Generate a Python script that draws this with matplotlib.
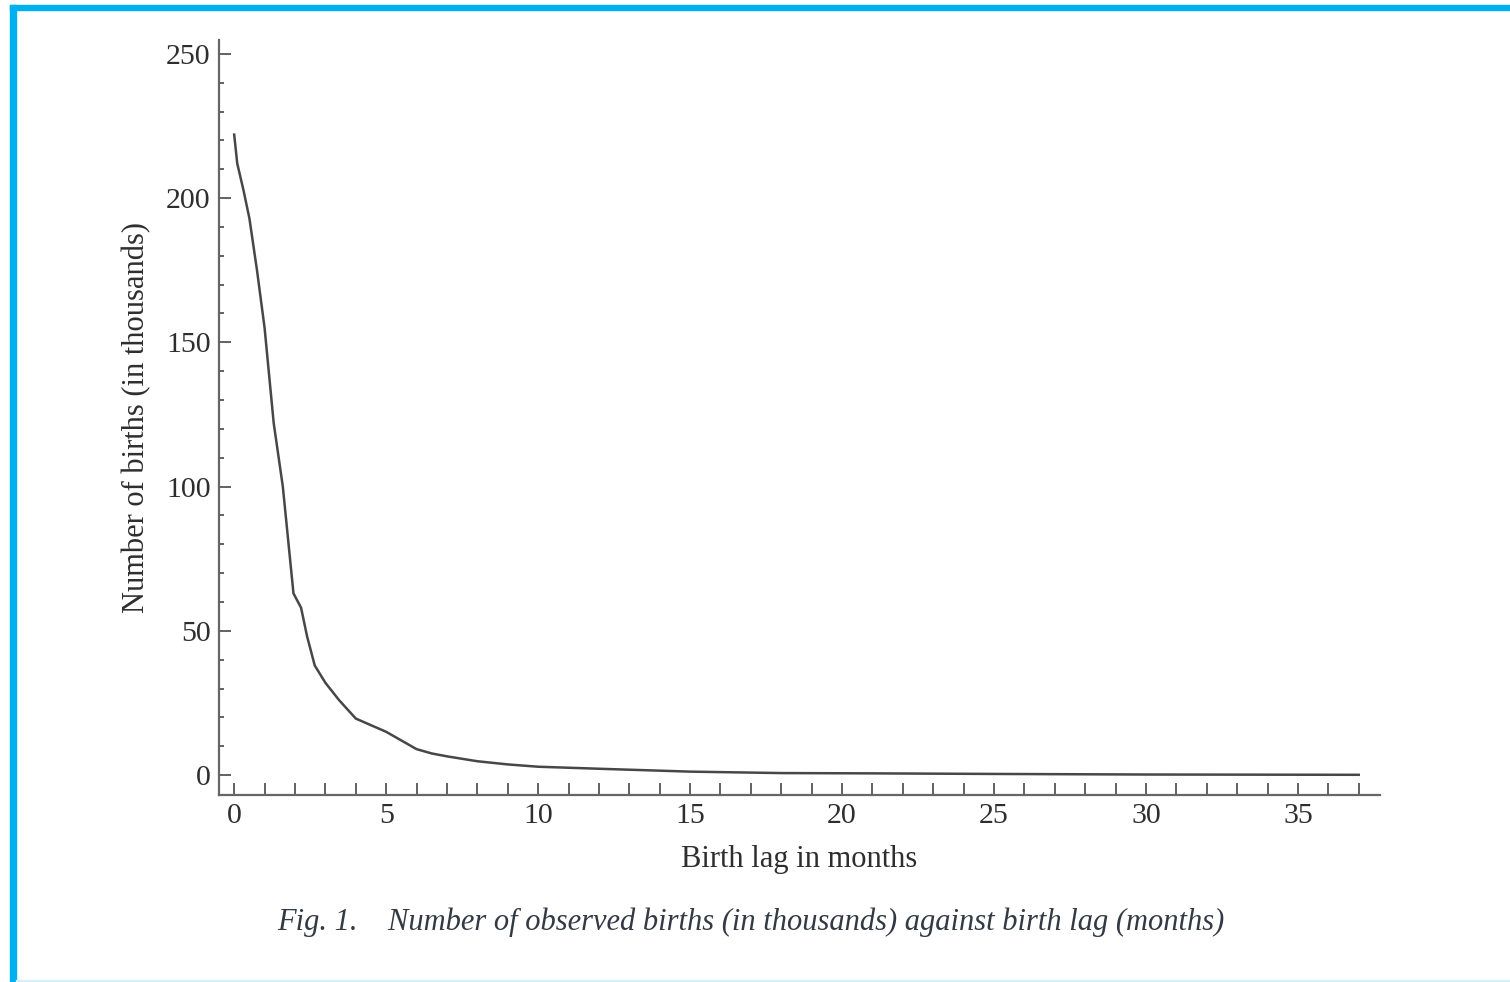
import matplotlib.pyplot as plt
from matplotlib.patches import Rectangle
from matplotlib.ticker import MultipleLocator

plt.rcParams['font.family'] = ['Liberation Serif', 'DejaVu Serif']

# birth lag (months) and observed births (thousands)
lag = [0, 0.1, 0.3, 0.5, 0.75, 1.0, 1.3, 1.6, 1.95, 2.2, 2.4, 2.65, 3.0, 3.45,
       4.0, 5.0, 5.5, 6.0, 6.5, 7.0, 8.0, 9.0, 10, 12, 15, 18, 21, 25, 30, 37]
births = [222, 212, 203, 193, 175, 155, 122, 100, 63, 58, 48, 38, 32, 26,
          19.6, 15, 12, 9, 7.5, 6.5, 4.8, 3.7, 2.9, 2.2, 1.2, 0.7, 0.6, 0.4, 0.2, 0.1]

W, H = 1510, 982
fig = plt.figure(figsize=(W / 100, H / 100), dpi=100)

# blue frame of the screenshot
blue = '#00b0f0'
fig.patches.append(Rectangle((10 / W, 0), 6 / W, 1 - 5 / H, transform=fig.transFigure,
                             color=blue, zorder=0))
fig.patches.append(Rectangle((10 / W, 1 - 10 / H), 1, 5 / H, transform=fig.transFigure,
                             color=blue, zorder=0))
fig.patches.append(Rectangle((16 / W, 0), 1, 2 / H, transform=fig.transFigure,
                             color='#d6f0fb', zorder=0))

ax = fig.add_axes([219 / W, 1 - 795 / H, (1380 - 219) / W, (795 - 40) / H])
ax.plot(lag, births, color='#474747', lw=1.8)

ax.set_xlim(-0.5, 37.7)
ax.set_ylim(-6.9, 254.8)
ax.xaxis.set_major_locator(MultipleLocator(5))
ax.xaxis.set_minor_locator(MultipleLocator(1))
ax.yaxis.set_major_locator(MultipleLocator(50))
ax.yaxis.set_minor_locator(MultipleLocator(10))

for s in ['top', 'right']:
    ax.spines[s].set_visible(False)
for s in ['left', 'bottom']:
    ax.spines[s].set_color('#666666')
    ax.spines[s].set_linewidth(1.6)

txt = '#2e2e2e'
ax.tick_params(axis='both', which='both', direction='in', color='#555555',
               width=1.3, labelsize=21.5, labelcolor=txt, pad=6)
ax.tick_params(axis='x', which='both', length=8.5)
ax.tick_params(axis='y', which='major', length=8.5)
ax.tick_params(axis='y', which='minor', length=3.6)

ax.set_xlabel('Birth lag in months', fontsize=22, color=txt, labelpad=11)
ax.set_ylabel('Number of births (in thousands)', fontsize=22, color=txt, labelpad=11)

fig.text(277 / W, 1 - 922 / H,
         'Fig. 1.    Number of observed births (in thousands) against birth lag (months)',
         fontsize=22, style='italic', color='#333a44', ha='left', va='center')

fig.savefig('out.png', dpi=100)
